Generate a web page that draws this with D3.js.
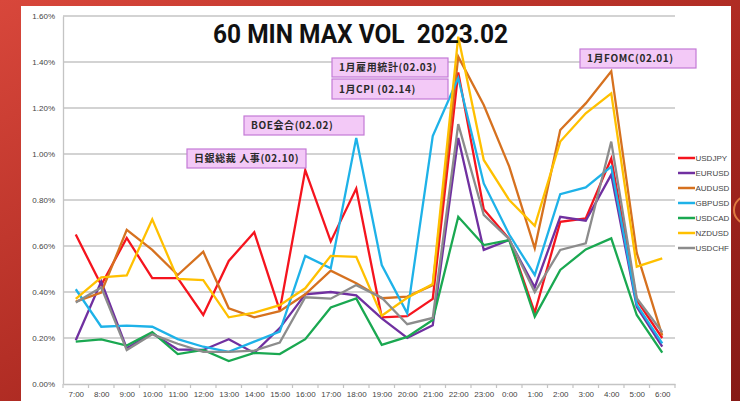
<!DOCTYPE html>
<html><head><meta charset="utf-8">
<script src="https://cdn.jsdelivr.net/npm/d3@7"></script>
<style>html,body{margin:0;padding:0;background:#fff;}svg{display:block;}</style>
</head><body>
<svg id="c" width="740" height="401"></svg>
<script>
const categories = ["7:00","8:00","9:00","10:00","11:00","12:00","13:00","14:00","15:00","16:00","17:00","18:00","19:00","20:00","21:00","22:00","23:00","0:00","1:00","2:00","3:00","4:00","5:00","6:00"];
const yTicks = [0,0.2,0.4,0.6,0.8,1.0,1.2,1.4,1.6];
const seriesNames = ["USDJPY","EURUSD","AUDUSD","GBPUSD","USDCAD","NZDUSD","USDCHF"];
const seriesColors = ["#f5141e","#7030a0","#d6711f","#1eb2e8","#1aa851","#ffc000","#8c8c8c"];
const USDJPY = [0.65,0.43,0.635,0.46,0.46,0.30,0.535,0.66,0.32,0.93,0.62,0.85,0.29,0.295,0.37,1.355,0.76,0.63,0.31,0.705,0.72,0.98,0.365,0.20];
const EURUSD = [0.19,0.445,0.155,0.22,0.15,0.148,0.195,0.135,0.243,0.39,0.40,0.385,0.285,0.20,0.255,1.07,0.583,0.626,0.42,0.727,0.71,0.91,0.336,0.162];
const AUDUSD = [0.358,0.397,0.67,0.583,0.474,0.575,0.329,0.29,0.317,0.39,0.493,0.438,0.373,0.38,0.43,1.423,1.213,0.945,0.59,1.104,1.22,1.36,0.57,0.21];
const GBPUSD = [0.412,0.249,0.254,0.249,0.195,0.162,0.14,0.184,0.228,0.557,0.503,1.07,0.517,0.307,1.078,1.33,0.872,0.65,0.474,0.825,0.855,0.945,0.345,0.177];
const USDCAD = [0.184,0.194,0.167,0.225,0.13,0.148,0.10,0.135,0.13,0.195,0.333,0.372,0.17,0.205,0.278,0.727,0.604,0.626,0.293,0.496,0.585,0.633,0.30,0.136];
const NZDUSD = [0.37,0.464,0.472,0.716,0.457,0.452,0.29,0.31,0.343,0.416,0.557,0.553,0.297,0.375,0.435,1.51,0.974,0.80,0.688,1.054,1.177,1.264,0.51,0.546];
const USDCHF = [0.354,0.42,0.148,0.216,0.175,0.14,0.14,0.145,0.18,0.377,0.371,0.43,0.375,0.26,0.287,1.13,0.735,0.63,0.40,0.583,0.612,1.054,0.373,0.225];
const seriesValues = [USDJPY,EURUSD,AUDUSD,GBPUSD,USDCAD,NZDUSD,USDCHF];
const titleText = "60 MIN MAX VOL  2023.02";
const annoTexts = ["日銀総裁 人事(02.10)","BOE会合(02.02)","1月雇用統計(02.03)","1月CPI (02.14)","1月FOMC(02.01)"];
const annoBoxes = [[187,149,306,168],[244,116,364,135],[332,58,448,77],[332,79,448,99],[580,49,696,68]];

const svg = d3.select("#c");
const defs = svg.append("defs");
const g1 = defs.append("linearGradient").attr("id","bg").attr("x1","0").attr("y1","0").attr("x2","1").attr("y2","1");
g1.append("stop").attr("offset","0").attr("stop-color","#d8473b");
g1.append("stop").attr("offset","0.6").attr("stop-color","#a8271f");
g1.append("stop").attr("offset","1").attr("stop-color","#861a16");
svg.append("rect").attr("width",740).attr("height",401).attr("fill","url(#bg)");
svg.append("circle").attr("cx",748).attr("cy",210).attr("r",14).attr("fill","none").attr("stroke","#e07a40").attr("stroke-width",2);
svg.append("rect").attr("x",21).attr("y",6).attr("width",710).attr("height",395).attr("fill","#ffffff");

const L=63, R=675, T=16, B=384;
const x = d3.scalePoint().domain(categories).range([L,R]).padding(0.5);
const y = d3.scaleLinear().domain([0,1.6]).range([B,T]);

// gridlines
svg.append("g").selectAll("line").data(yTicks.filter(d=>d>0)).join("line")
  .attr("x1",L).attr("x2",R).attr("y1",d=>y(d)).attr("y2",d=>y(d))
  .attr("stroke","#c4c4c4").attr("stroke-width",1.3);

// y axis
const yAxis = d3.axisLeft(y).tickValues(yTicks).tickFormat(d=>d.toFixed(2)+"%").tickSize(0).tickPadding(8);
const ya = svg.append("g").attr("transform",`translate(${L},0)`).call(yAxis);
ya.select(".domain").attr("stroke","#c4c4c4").attr("stroke-width",1.3);
ya.selectAll("text").attr("font-family","Liberation Sans, Arial, sans-serif").attr("font-size",8).attr("fill","#444");

// x axis
const xAxis = d3.axisBottom(x).tickSize(0).tickPadding(7);
const xa = svg.append("g").attr("transform",`translate(0,${B})`).call(xAxis);
xa.select(".domain").attr("stroke","#c4c4c4").attr("stroke-width",1.3);
xa.selectAll("text").attr("font-family","Liberation Sans, Arial, sans-serif").attr("font-size",8).attr("fill","#444");
const bw = x.step();
svg.append("g").selectAll("line").data(d3.range(categories.length+1)).join("line")
  .attr("x1",i=>L+i*bw).attr("x2",i=>L+i*bw).attr("y1",B).attr("y2",B+4)
  .attr("stroke","#c4c4c4").attr("stroke-width",1.2);

// lines
const line = d3.line().x((d,i)=>x(categories[i])).y(d=>y(d));
seriesValues.forEach((vals,k)=>{
  svg.append("path").datum(vals).attr("d",line).attr("fill","none")
    .attr("stroke",seriesColors[k]).attr("stroke-width",2.3).attr("stroke-linejoin","miter");
});

// legend
const lg = svg.append("g");
seriesNames.forEach((n,k)=>{
  const yy = 158 + k*15;
  lg.append("line").attr("x1",678).attr("x2",695).attr("y1",yy).attr("y2",yy).attr("stroke",seriesColors[k]).attr("stroke-width",2.5);
  lg.append("text").attr("x",695.5).attr("y",yy+3).text(n).attr("font-family","Liberation Sans Narrow, Liberation Sans, Arial, sans-serif").attr("font-size",8).attr("fill","#444");
});

// title
svg.append("text").attr("x",213).attr("y",43).text(titleText)
  .attr("font-family","Roboto, 'DejaVu Sans', sans-serif").attr("font-weight","bold").attr("font-size",25)
  .attr("textLength",295).attr("lengthAdjust","spacingAndGlyphs").attr("fill","#111").style("white-space","pre");

// annotations
annoBoxes.forEach((b,k)=>{
  svg.append("rect").attr("x",b[0]).attr("y",b[1]).attr("width",b[2]-b[0]).attr("height",b[3]-b[1])
    .attr("fill","#f3c9f7").attr("stroke","#c47ad6").attr("stroke-width",1.2);
  svg.append("text").attr("x",b[0]+7).attr("y",(b[1]+b[3])/2+3.8).text(annoTexts[k])
    .attr("font-family","'Noto Sans CJK JP', 'Noto Sans', sans-serif").attr("font-weight","bold").attr("font-size",10)
    .attr("letter-spacing",0.6).attr("fill","#2a2a2a");
});
</script>
</body></html>
